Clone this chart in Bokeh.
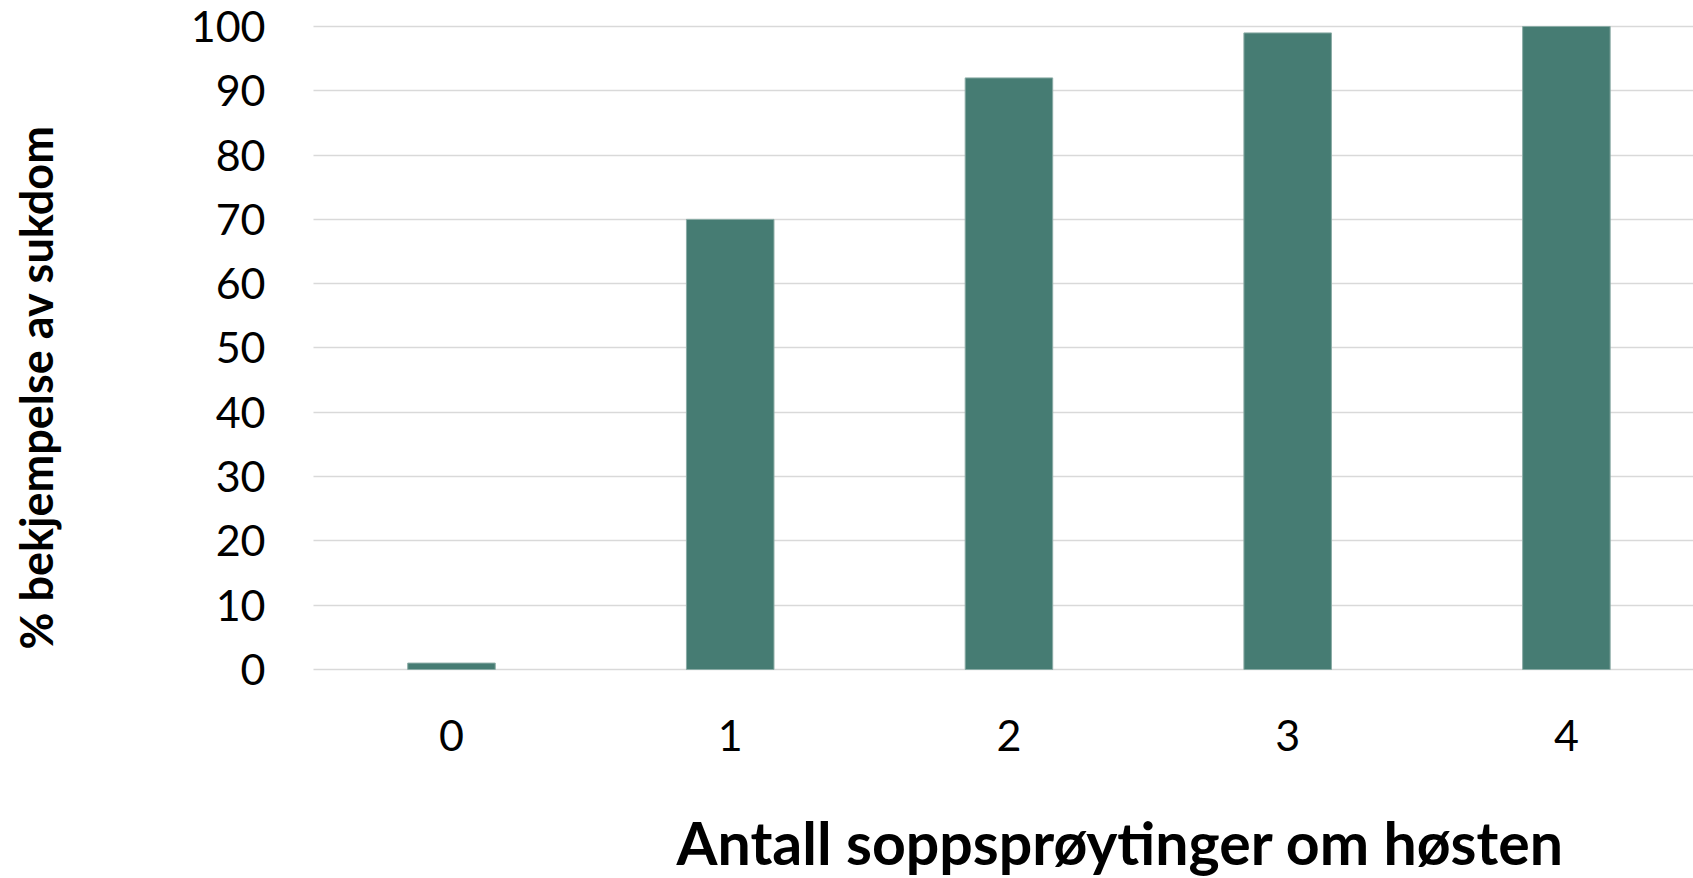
from bokeh.plotting import figure
from bokeh.models import Range1d, FixedTicker, Label, ColumnDataSource
from bokeh.embed import file_html
from bokeh.resources import INLINE
import math

# data
sprayings = [0, 1, 2, 3, 4]
control_pct = [1, 70, 92, 99, 100]
x_tick_labels = ["0", "1", "2", "3", "4"]
y_ticks = [0, 10, 20, 30, 40, 50, 60, 70, 80, 90, 100]
x_title = "Antall soppsprøytinger om høsten"
y_title = "% bekjempelse av sukdom"

FONT = "Lato"
BAR = "#467C73"

# plotting area (data units) and canvas extents
X_LEFT, X_RIGHT = -0.495, 4.456
Y_BOTTOM, Y_TOP = 0, 100

src = ColumnDataSource(dict(x=sprayings, top=control_pct))

p = figure(width=1693, height=878, output_backend="svg", toolbar_location=None,
           x_range=Range1d(-1.618, X_RIGHT), y_range=Range1d(-32.5, 104.04),
           min_border=0)
p.outline_line_color = None
p.background_fill_color = "white"
p.border_fill_color = "white"

p.vbar(x="x", top="top", width=0.314, bottom=0, source=src,
       fill_color=BAR, line_color="#8aaba5", line_width=1)

p.xaxis.ticker = FixedTicker(ticks=sprayings)
p.xaxis.major_label_overrides = {s: l for s, l in zip(sprayings, x_tick_labels)}
p.xaxis.fixed_location = Y_BOTTOM
p.yaxis.ticker = FixedTicker(ticks=y_ticks)
p.yaxis.fixed_location = X_LEFT
for ax in (p.xaxis, p.yaxis):
    ax.axis_line_color = None
    ax.major_tick_line_color = None
    ax.minor_tick_line_color = None
    ax.major_label_text_font = FONT
    ax.major_label_text_font_size = "43px"
    ax.major_label_text_color = "#000000"
p.xaxis.major_label_standoff = 44
p.yaxis.major_label_standoff = 42

p.xgrid.grid_line_color = None
p.ygrid.grid_line_color = "#d9d9d9"
p.ygrid.grid_line_width = 1.5
p.ygrid.cross_bounds = (X_LEFT, X_RIGHT)

p.add_layout(Label(x=-1.489, y=43.9, text=y_title, angle=math.pi / 2,
                   text_align="center", text_baseline="middle",
                   text_font=FONT, text_font_style="bold",
                   text_font_size="45px", text_color="#000000"))

p.add_layout(Label(x=2.40, y=-26.9, text=x_title, text_align="center",
                   text_baseline="middle", text_font=FONT, text_font_style="bold",
                   text_font_size="59px", text_color="#000000"))

open("out.html", "w").write(file_html(p, INLINE))
